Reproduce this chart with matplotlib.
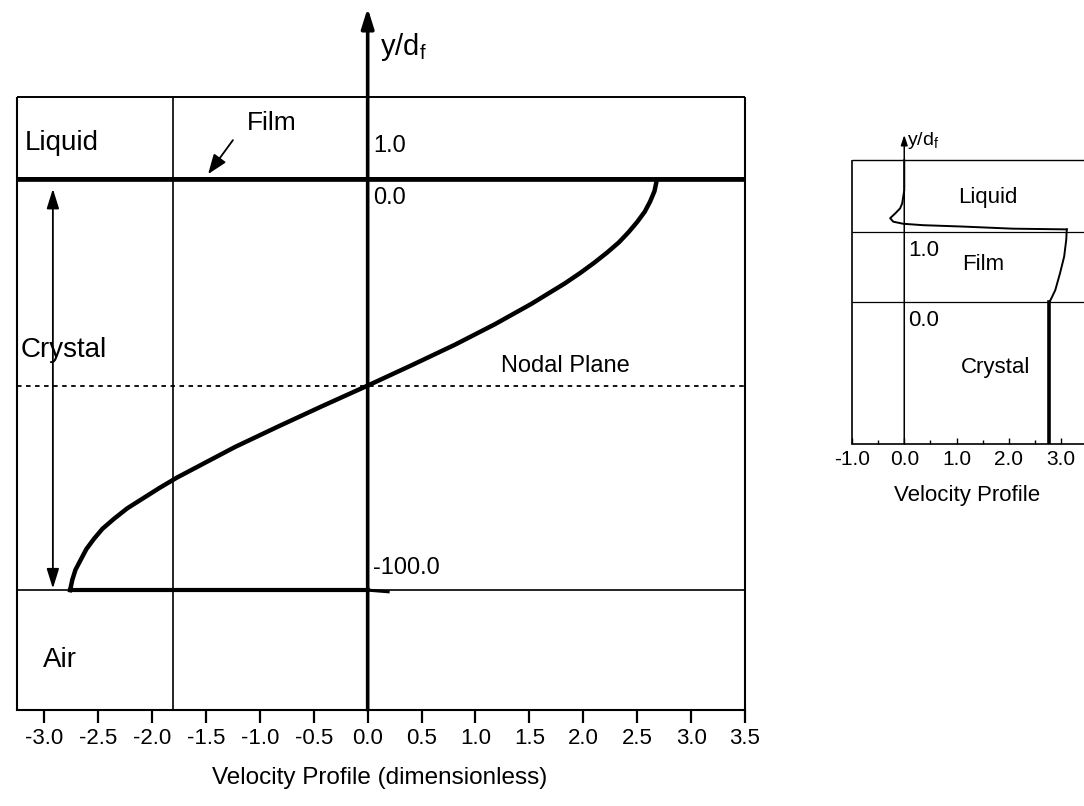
import matplotlib
matplotlib.use("Agg")
import matplotlib.pyplot as plt

plt.rcParams['font.family'] = ['Liberation Sans', 'DejaVu Sans']

# main panel: velocity profile across the crystal (y/d_f from -100 to 0)
crystal_y = [-100.0, -97.5, -95.0, -92.5, -90.0, -87.5, -85.0, -82.5, -80.0, -77.5,
             -75.0, -72.5, -70.0, -65.0, -60.0, -55.0, -50.0, -45.0, -40.0, -35.0,
             -30.0, -25.0, -22.5, -20.0, -17.5, -15.0, -12.5, -10.0, -7.5, -5.0,
             -2.5, 0.0]
crystal_u = [-2.76, -2.74, -2.71, -2.66, -2.61, -2.54, -2.46, -2.35, -2.23, -2.08,
             -1.93, -1.77, -1.59, -1.23, -0.83, -0.42, 0.0, 0.41, 0.81, 1.18,
             1.52, 1.83, 1.97, 2.10, 2.22, 2.33, 2.42, 2.50, 2.57, 2.62,
             2.66, 2.68]
film_y = [0.0, 1.0]
crystal_bottom = -100.0
nodal_y = -50.0
air_u = [0.0, 0.19]
main_xticks = [-3.0, -2.5, -2.0, -1.5, -1.0, -0.5, 0.0, 0.5, 1.0, 1.5, 2.0, 2.5, 3.0, 3.5]

# inset: profile near the film
inset_crystal_u = 2.77
inset_film_u = [2.78, 2.89, 2.98, 3.06, 3.10, 3.11]
inset_film_y = [0.0, 0.17, 0.41, 0.65, 0.89, 1.04]
inset_liquid_u = [3.11, 2.08, 1.13, 0.36, -0.02, -0.21, -0.27, -0.17, -0.08, -0.04, 0.0, 0.0]
inset_liquid_y = [1.04, 1.05, 1.08, 1.10, 1.12, 1.15, 1.20, 1.27, 1.34, 1.41, 1.6, 2.03]
inset_xticks = [-1.0, 0.0, 1.0, 2.0, 3.0]
inset_minor = [-0.5, 0.5, 1.5, 2.5]

fig = plt.figure(figsize=(10.84, 8.06), dpi=100)

# ---- main panel ----
ax = fig.add_axes([17.3 / 1084, 96 / 806, (745 - 17.3) / 1084, (710 - 8) / 806])
xmin, xmax = -3.25, 3.5
ymin, ymax = -129.3, 42.3
box_top = 20.5
ax.set_xlim(xmin, xmax)
ax.set_ylim(ymin, ymax)
for s in ['top', 'left', 'right']:
    ax.spines[s].set_visible(False)
ax.spines['bottom'].set_linewidth(1.5)
ax.set_yticks([])
ax.set_xticks(main_xticks)
ax.set_xticklabels([f'{t:.1f}' for t in main_xticks])
ax.tick_params(axis='x', direction='out', length=9, width=1.6, labelsize=16, pad=4)

# frame and region lines
ax.hlines(box_top, xmin, xmax, color='k', lw=1.4, clip_on=False)
ax.vlines([xmin, xmax], ymin, box_top, color='k', lw=1.5, clip_on=False)
ax.vlines(-1.81, ymin, box_top, color='k', lw=1.2)
ax.axhspan(film_y[0], film_y[1], color='k', lw=0)
ax.hlines(film_y, xmin, xmax, color='k', lw=0.6)
ax.hlines(crystal_bottom, xmin, xmax, color='k', lw=1.2)
ax.hlines(nodal_y, xmin, xmax, color='k', lw=1.3, linestyles=(0, (2.5, 2.5)))

# profile
ax.plot(crystal_u, crystal_y, color='k', lw=3.2, solid_joinstyle='round')
ax.plot([crystal_u[0], 0.0], [crystal_bottom, crystal_bottom], color='k', lw=3)
ax.plot(air_u, [crystal_bottom, crystal_bottom - 0.4], color='k', lw=2.2)

# y axis with arrow
ax.annotate('', xy=(0, ymax), xytext=(0, ymin), annotation_clip=False,
            arrowprops=dict(arrowstyle='-|>,head_length=0.8,head_width=0.25',
                            lw=2.6, color='k', mutation_scale=15,
                            shrinkA=0, shrinkB=0))
# crystal thickness arrow
ax.annotate('', xy=(-2.92, -1.9), xytext=(-2.92, -99.6),
            arrowprops=dict(arrowstyle='<|-|>,head_length=0.8,head_width=0.25',
                            lw=1.3, color='k', mutation_scale=15,
                            shrinkA=0, shrinkB=0))
# film pointer
ax.annotate('', xy=(-1.48, 1.7), xytext=(-1.25, 10.0),
            arrowprops=dict(arrowstyle='-|>,head_length=0.8,head_width=0.3',
                            lw=1.3, color='k', mutation_scale=15,
                            shrinkA=0, shrinkB=0))

ax.text(-3.18, 9.3, 'Liquid', fontsize=20, va='center')
ax.text(-1.12, 14.2, 'Film', fontsize=19, va='center')
ax.text(-3.22, -41.3, 'Crystal', fontsize=20, va='center')
ax.text(-2.85, -117.1, 'Air', fontsize=20, va='center', ha='center')
ax.text(1.83, -45.2, 'Nodal Plane', fontsize=17, va='center', ha='center')
ax.text(0.05, 8.6, '1.0', fontsize=17, va='center')
ax.text(0.05, -4.2, '0.0', fontsize=17, va='center')
ax.text(0.05, -94.6, '-100.0', fontsize=17, va='center')
ax.text(0.11, 32.8, r'y/d$_\mathregular{f}$', fontsize=21, va='center')

fig.text(380 / 1084, 1 - 778 / 806, 'Velocity Profile (dimensionless)',
         fontsize=17.5, ha='center', va='center')

# ---- inset ----
ax2 = fig.add_axes([852 / 1084, (806 - 444) / 806, 1 - 852 / 1084, (444 - 135) / 806])
ixmin, ixmax = -1.0, 3.44
iymin, iymax = -2.03, 2.39
ibox_top = 2.03
ax2.set_xlim(ixmin, ixmax)
ax2.set_ylim(iymin, iymax)
for s in ['top', 'left', 'right']:
    ax2.spines[s].set_visible(False)
ax2.spines['bottom'].set_linewidth(1.2)
ax2.set_yticks([])
ax2.set_xticks(inset_xticks)
ax2.set_xticklabels([f'{t:.1f}' for t in inset_xticks])
ax2.set_xticks(inset_minor, minor=True)
ax2.tick_params(axis='x', which='major', direction='in', length=4, width=1,
                labelsize=15, pad=4)
ax2.tick_params(axis='x', which='minor', direction='in', length=3, width=1)

ax2.hlines(ibox_top, ixmin, ixmax, color='k', lw=1.0, clip_on=False)
ax2.vlines(ixmin, iymin, ibox_top, color='k', lw=1.2, clip_on=False)
ax2.hlines(film_y, ixmin, ixmax, color='k', lw=0.9)

ax2.plot([inset_crystal_u, inset_crystal_u], [iymin, 0.0], color='k', lw=2.6)
ax2.plot(inset_film_u, inset_film_y, color='k', lw=1.4)
ax2.plot(inset_liquid_u, inset_liquid_y, color='k', lw=1.4)

ax2.annotate('', xy=(0, iymax), xytext=(0, iymin), annotation_clip=False,
             arrowprops=dict(arrowstyle='-|>,head_length=0.6,head_width=0.2',
                             lw=1.1, color='k', mutation_scale=10,
                             shrinkA=0, shrinkB=0))

ax2.text(1.59, 1.5, 'Liquid', fontsize=16, ha='center', va='center')
ax2.text(1.51, 0.54, 'Film', fontsize=16, ha='center', va='center')
ax2.text(1.74, -0.93, 'Crystal', fontsize=16, ha='center', va='center')
ax2.text(0.08, 0.74, '1.0', fontsize=16, va='center')
ax2.text(0.08, -0.27, '0.0', fontsize=16, va='center')
ax2.text(0.06, 2.31, r'y/d$_\mathregular{f}$', fontsize=14, va='center')

fig.text(967 / 1084, 1 - 496 / 806, 'Velocity Profile', fontsize=16,
         ha='center', va='center')

fig.savefig('out.png', dpi=100)
